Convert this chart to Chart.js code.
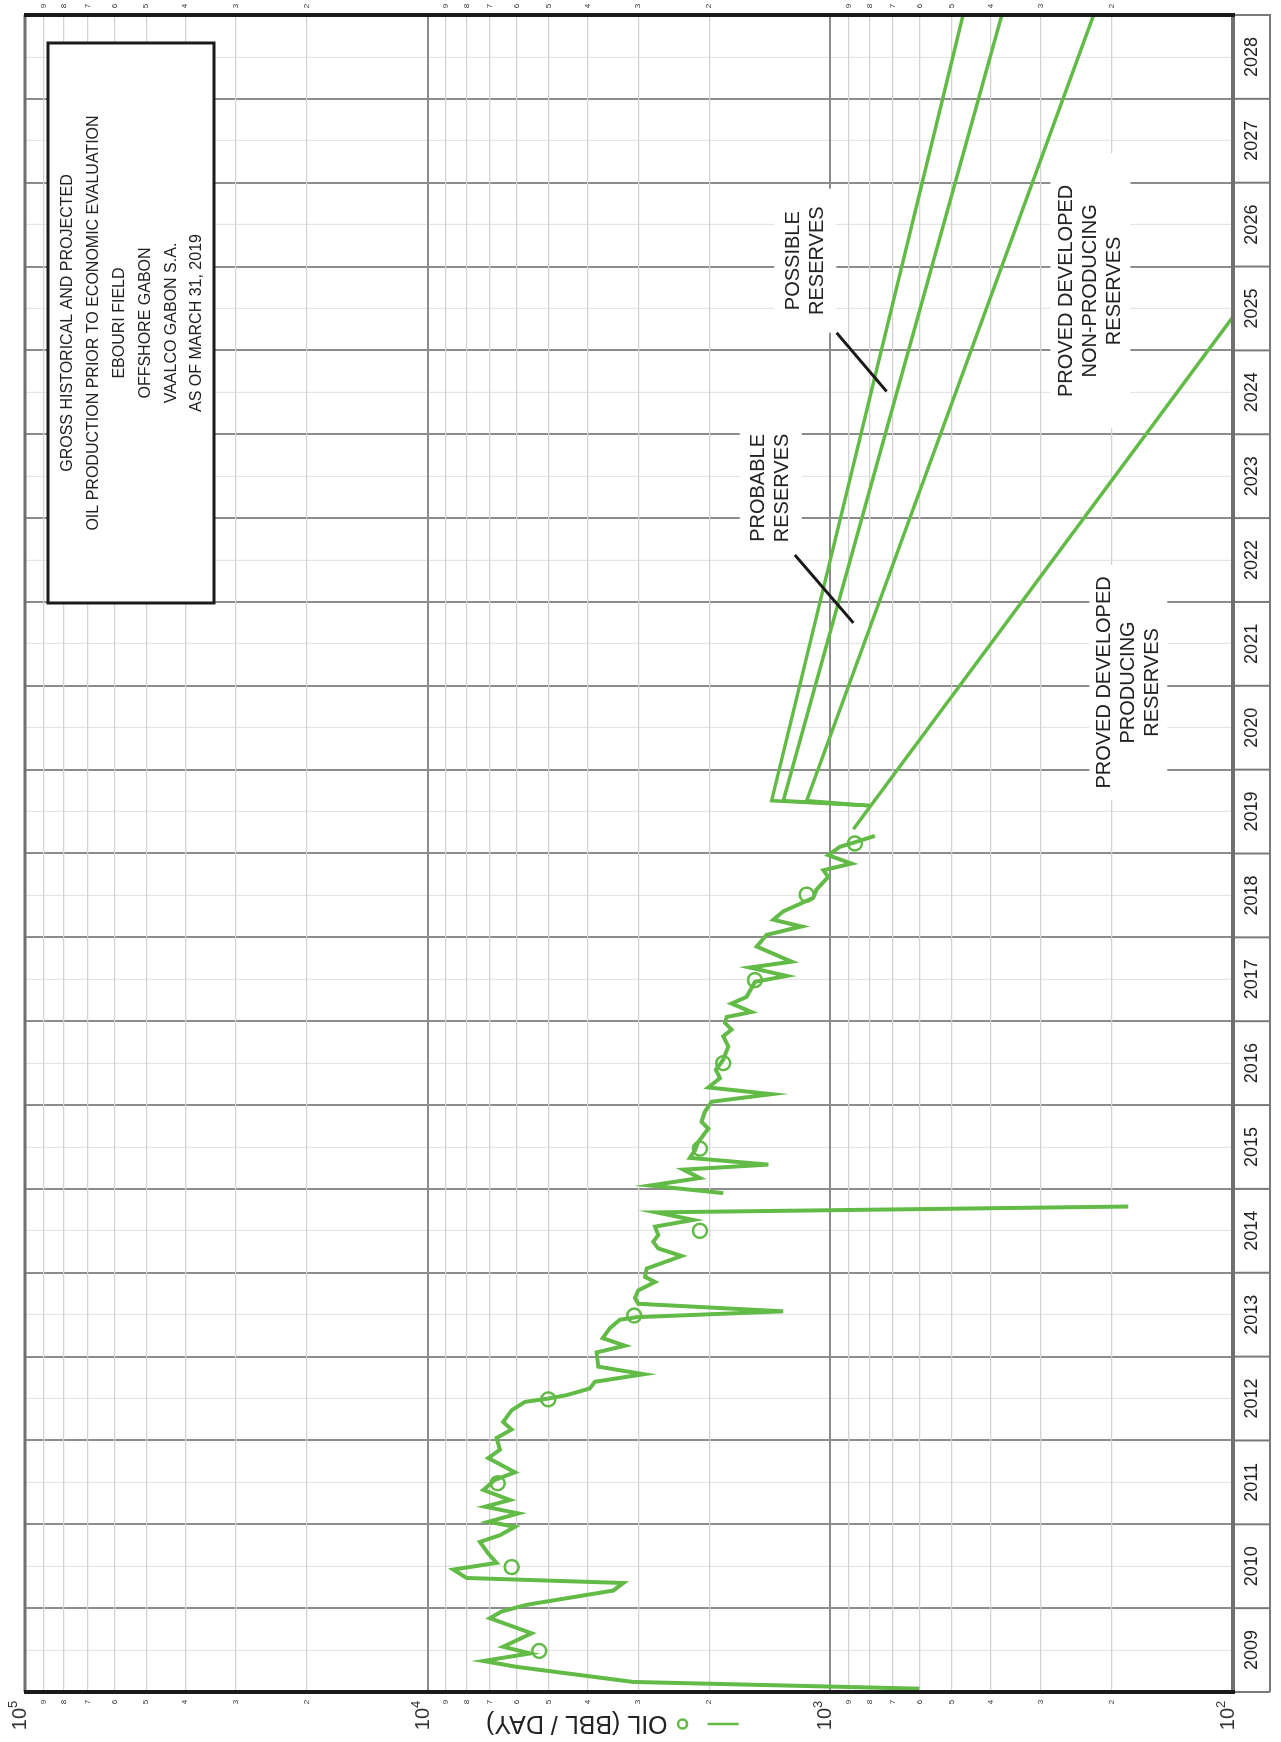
<!DOCTYPE html>
<html>
<head>
<meta charset="utf-8">
<script src="https://cdn.jsdelivr.net/npm/chart.js@4.4.1/dist/chart.umd.min.js"></script>
<style>
  html, body { margin: 0; padding: 0; background: #fff; }
  #page { position: relative; width: 1281px; height: 1742px; overflow: hidden; background: #fff; }
  /* the chart is drawn landscape and turned a quarter turn to the left */
  #wrap { position: absolute; left: 0; top: 0; width: 1742px; height: 1281px;
          transform-origin: 0 0; transform: translate(0, 1742px) rotate(-90deg); }
</style>
</head>
<body>
<div id="page"><div id="wrap"><canvas id="chart" width="1742" height="1281"></canvas></div></div>
<script>
// ---- data ----
const years = [2009, 2010, 2011, 2012, 2013, 2014, 2015, 2016, 2017, 2018,
               2019, 2020, 2021, 2022, 2023, 2024, 2025, 2026, 2027, 2028];

// monthly history (bbl/day), null = missing month after the 2014 dip
const histYears = [
  2009.04, 2009.12, 2009.30, 2009.37, 2009.46, 2009.54, 2009.70, 2009.88, 2009.96, 2010.04,
  2010.21, 2010.30, 2010.36, 2010.46, 2010.54, 2010.65, 2010.79, 2010.87, 2010.97, 2011.03,
  2011.13, 2011.21, 2011.29, 2011.41, 2011.53, 2011.62, 2011.79, 2011.89, 2012.03, 2012.13,
  2012.22, 2012.36, 2012.46, 2012.50, 2012.54, 2012.62, 2012.70, 2012.79, 2012.88, 2013.05,
  2013.13, 2013.22, 2013.34, 2013.44, 2013.47, 2013.54, 2013.63, 2013.70, 2013.79, 2013.89,
  2013.95, 2014.05, 2014.20, 2014.29, 2014.37, 2014.45, 2014.55, 2014.63, 2014.72, 2014.79,
  2014.87, 2014.95, 2015.04, 2015.13, 2015.23, 2015.29, 2015.37, 2015.46, 2015.56, 2015.72,
  2015.80, 2015.92, 2016.04, 2016.13, 2016.21, 2016.32, 2016.42, 2016.54, 2016.70, 2016.82,
  2016.90, 2016.98, 2017.05, 2017.11, 2017.21, 2017.29, 2017.47, 2017.54, 2017.64, 2017.71,
  2017.89, 2018.03, 2018.13, 2018.21, 2018.31, 2018.47, 2018.57, 2018.72, 2018.80, 2018.88,
  2018.98, 2019.08, 2019.14, 2019.21
];
const histOil = [
  601, 3086, 6013, 7274, 5570, 6491, 5518, 7003, 6552, 5678,
  3459, 3268, 8005, 8638, 6741, 7070, 7418, 6615, 6070, 7070,
  5955, 7206, 6246, 7274, 6806, 6070, 7070, 6615, 6741, 6187,
  6491, 6187, 5733, 5016, 4518, 3954, 3842, 2904, 3770, 3806,
  3237, 3677, 3526, 3330, 3028, 1309, 2999, 3057, 2999, 2726,
  2886, 2859, 2341, 2675, 2753, 2675, 2726, 2190, 2701, 182,
  null, 1845, 2805, 2108, 2318, 1426, 2233, 2170, 2128, 2010,
  2088, 2049, 1972, 1400, 2010, 1880, 1924, 1845, 1792, 1845,
  1759, 1827, 1810, 1569, 1759, 1614, 1539, 1284, 1584, 1248,
  1524, 1440, 1179, 1386, 1309, 1103, 1082, 1012, 1041, 886,
  1012, 947, 861, 775
];

// circle markers
const markerYears = [2009.49, 2010.49, 2011.49, 2012.49, 2013.49, 2014.50, 2015.48, 2016.50, 2017.49, 2018.51, 2019.12];
const markerOil = [5283, 6187, 6702, 5016, 3069, 2108, 2108, 1845, 1539, 1145, 869];

// forecasts
const pdpYears = [2019.29, 2025.40];
const pdpOil = [877, 100];
const branchYears = [2019.57, 2019.63, 2029];
const pdnpOil = [795, 1145, 222];
const probableOil = [795, 1309, 375];
const possibleOil = [795, 1399, 468];

// axis ticks
const decades = [100, 1000, 10000, 100000];
const minorDigits = [2, 3, 4, 5, 6, 7, 8, 9];
const exponents = ['2', '3', '4', '5'];

const titleLines = [
  'GROSS HISTORICAL AND PROJECTED',
  'OIL PRODUCTION PRIOR TO ECONOMIC EVALUATION',
  'EBOURI FIELD',
  'OFFSHORE GABON',
  'VAALCO GABON S.A.',
  'AS OF MARCH 31, 2019'
];

// notes placed in data coordinates
const notes = [
  { lines: ['PROVED DEVELOPED', 'PRODUCING', 'RESERVES'], year: 2021.04, oil: 182, w: 235, h: 78 },
  { lines: ['PROVED DEVELOPED', 'NON-PRODUCING', 'RESERVES'], year: 2025.71, oil: 226, w: 275, h: 80 },
  { lines: ['PROBABLE', 'RESERVES'], year: 2023.36, oil: 1406, w: 139, h: 62 },
  { lines: ['POSSIBLE', 'RESERVES'], year: 2026.07, oil: 1154, w: 144, h: 62 }
];
const leaders = [
  { from: [2022.56, 1224], to: [2021.75, 877] },
  { from: [2025.21, 965], to: [2024.51, 725] }
];

const GREEN = '#62bb46';
const FONT = '"Liberation Sans", Arial, sans-serif';

// ---- tick tables built from the arrays ----
const halfYears = [];
years.forEach(y => { halfYears.push(y, y + 0.5); });
halfYears.push(years[years.length - 1] + 1);

const logTicks = [];
decades.slice(0, -1).forEach(d => {
  logTicks.push(d);
  minorDigits.forEach(k => logTicks.push(d * k));
});
logTicks.push(decades[decades.length - 1]);

const pts = (xs, ys) => xs.map((x, i) => ({ x, y: ys[i] }));

const isDecade = v => decades.includes(v);

// ---- drawing of frame, labels, notes ----
const decorations = {
  id: 'decorations',
  beforeDatasetsDraw(chart) {
    const { ctx, chartArea: ca, scales: { x, y } } = chart;
    ctx.save();

    // white boxes under the notes
    ctx.fillStyle = '#fff';
    notes.forEach(n => {
      const cx = x.getPixelForValue(n.year), cy = y.getPixelForValue(n.oil);
      ctx.fillRect(cx - n.w / 2, cy - n.h / 2, n.w, n.h);
    });

    // title box
    const bx0 = ca.right - 588, bx1 = ca.right - 28, by0 = ca.top + 23, by1 = ca.top + 189;
    ctx.fillRect(bx0, by0, bx1 - bx0, by1 - by0);
    ctx.strokeStyle = '#1a1a1a';
    ctx.lineWidth = 3;
    ctx.strokeRect(bx0, by0, bx1 - bx0, by1 - by0);
    ctx.fillStyle = '#222';
    ctx.textAlign = 'center';
    ctx.textBaseline = 'middle';
    ctx.font = '16px ' + FONT;
    titleLines.forEach((t, i) => ctx.fillText(t, (bx0 + bx1) / 2, ca.top + 43 + i * 25.8));

    // note text
    ctx.font = '20px ' + FONT;
    notes.forEach(n => {
      const cx = x.getPixelForValue(n.year), cy = y.getPixelForValue(n.oil);
      const k = n.lines.length;
      n.lines.forEach((t, i) => ctx.fillText(t, cx, cy + (i - (k - 1) / 2) * 24));
    });
    ctx.restore();
  },
  afterDatasetsDraw(chart) {
    const { ctx, chartArea: ca, scales: { x, y } } = chart;
    ctx.save();

    // leader lines
    ctx.strokeStyle = '#1a1a1a';
    ctx.lineWidth = 3;
    leaders.forEach(l => {
      ctx.beginPath();
      ctx.moveTo(x.getPixelForValue(l.from[0]), y.getPixelForValue(l.from[1]));
      ctx.lineTo(x.getPixelForValue(l.to[0]), y.getPixelForValue(l.to[1]));
      ctx.stroke();
    });

    // year boxes under the plot
    const yb0 = ca.bottom, yb1 = ca.bottom + 37;
    ctx.strokeStyle = '#7a7a7a';
    ctx.lineWidth = 2;
    ctx.fillStyle = '#222';
    ctx.font = '18px ' + FONT;
    ctx.textAlign = 'center';
    ctx.textBaseline = 'middle';
    years.forEach(yr => {
      const x0 = x.getPixelForValue(yr), x1 = x.getPixelForValue(yr + 1);
      ctx.beginPath();
      ctx.moveTo(x0, yb0); ctx.lineTo(x0, yb1);
      ctx.stroke();
      ctx.fillText(String(yr), (x0 + x1) / 2, yb0 + 19);
    });
    ctx.beginPath();
    ctx.moveTo(ca.right, yb0); ctx.lineTo(ca.right, yb1);
    ctx.moveTo(ca.left, yb1); ctx.lineTo(ca.right + 1, yb1);
    ctx.stroke();

    // frame
    ctx.lineWidth = 3;
    ctx.strokeStyle = '#707070';
    ctx.beginPath();
    ctx.moveTo(ca.left, ca.top); ctx.lineTo(ca.right, ca.top);
    ctx.stroke();
    ctx.lineWidth = 4;
    ctx.beginPath();
    ctx.moveTo(ca.left, ca.bottom); ctx.lineTo(ca.right, ca.bottom);
    ctx.stroke();
    ctx.strokeStyle = '#1a1a1a';
    ctx.beginPath();
    ctx.moveTo(ca.left, ca.top - 1); ctx.lineTo(ca.left, ca.bottom + 2);
    ctx.moveTo(ca.right, ca.top - 1); ctx.lineTo(ca.right, ca.bottom + 2);
    ctx.stroke();

    // minor digits on both sides
    ctx.font = '8px ' + FONT;
    ctx.fillStyle = '#333';
    logTicks.forEach(v => {
      if (isDecade(v)) return;
      const d = Math.round(v / Math.pow(10, Math.floor(Math.log10(v))));
      const py = y.getPixelForValue(v);
      ctx.fillText(String(d), ca.left - 10, py);
      ctx.fillText(String(d), ca.right + 9, py);
    });

    // decade labels 10^n
    ctx.textBaseline = 'alphabetic';
    decades.forEach((v, i) => {
      const py = y.getPixelForValue(v);
      ctx.textAlign = 'right';
      ctx.font = '20px ' + FONT;
      ctx.fillText('10', ca.left - 16, py + 1);
      ctx.textAlign = 'left';
      ctx.font = '13px ' + FONT;
      ctx.fillText(exponents[i], ca.left - 16, py - 8);
    });

    // axis title with legend keys, reading upward
    ctx.translate(ca.left - 32, y.getPixelForValue(1690));
    ctx.rotate(-Math.PI / 2);
    ctx.strokeStyle = GREEN;
    ctx.lineWidth = 2.5;
    ctx.beginPath();
    ctx.moveTo(0, 0); ctx.lineTo(31, 0);
    ctx.stroke();
    ctx.beginPath();
    ctx.arc(56, 0, 4.5, 0, Math.PI * 2);
    ctx.stroke();
    ctx.fillStyle = '#222';
    ctx.font = '25px ' + FONT;
    ctx.textAlign = 'left';
    ctx.textBaseline = 'middle';
    ctx.fillText('OIL (BBL / DAY)', 71, 1);
    ctx.restore();
  }
};

const lineSet = (label, data, width) => ({
  label, data,
  borderColor: GREEN, borderWidth: width,
  pointRadius: 0, fill: false, tension: 0, spanGaps: false
});

new Chart(document.getElementById('chart'), {
  type: 'line',
  data: {
    datasets: [
      lineSet('History', pts(histYears, histOil), 4),
      {
        label: 'Markers', data: pts(markerYears, markerOil), showLine: false,
        pointStyle: 'circle', pointRadius: 7, pointBorderWidth: 2.5,
        pointBorderColor: GREEN, pointBackgroundColor: 'rgba(0,0,0,0)'
      },
      lineSet('Proved developed producing', pts(pdpYears, pdpOil), 3.5),
      lineSet('Proved developed non-producing', pts(branchYears, pdnpOil), 3.5),
      lineSet('Probable', pts(branchYears, probableOil), 3.5),
      lineSet('Possible', pts(branchYears, possibleOil), 3.5)
    ]
  },
  options: {
    responsive: false,
    animation: false,
    devicePixelRatio: 1,
    layout: { padding: { top: 25, right: 15, bottom: 0, left: 0 } },
    plugins: { legend: { display: false }, title: { display: false }, tooltip: { enabled: false } },
    scales: {
      x: {
        type: 'linear', min: years[0], max: years[years.length - 1] + 1,
        afterBuildTicks: s => { s.ticks = halfYears.map(v => ({ value: v })); },
        afterFit: s => { s.height = 48; },
        ticks: { display: false },
        border: { display: false },
        grid: {
          drawTicks: false,
          color: c => (c.tick && Number.isInteger(c.tick.value)) ? '#8c8c8c' : '#e4e4e4',
          lineWidth: c => (c.tick && Number.isInteger(c.tick.value)) ? 2 : 1.2
        }
      },
      y: {
        type: 'logarithmic', min: decades[0], max: decades[decades.length - 1],
        afterBuildTicks: s => { s.ticks = logTicks.map(v => ({ value: v })); },
        afterFit: s => { s.width = 50; },
        ticks: { display: false },
        border: { display: false },
        grid: {
          drawTicks: false,
          color: c => (c.tick && isDecade(c.tick.value)) ? '#8c8c8c' : '#d2d2d2',
          lineWidth: c => (c.tick && isDecade(c.tick.value)) ? 2 : 1.2
        }
      }
    }
  },
  plugins: [decorations]
});
</script>
</body>
</html>
